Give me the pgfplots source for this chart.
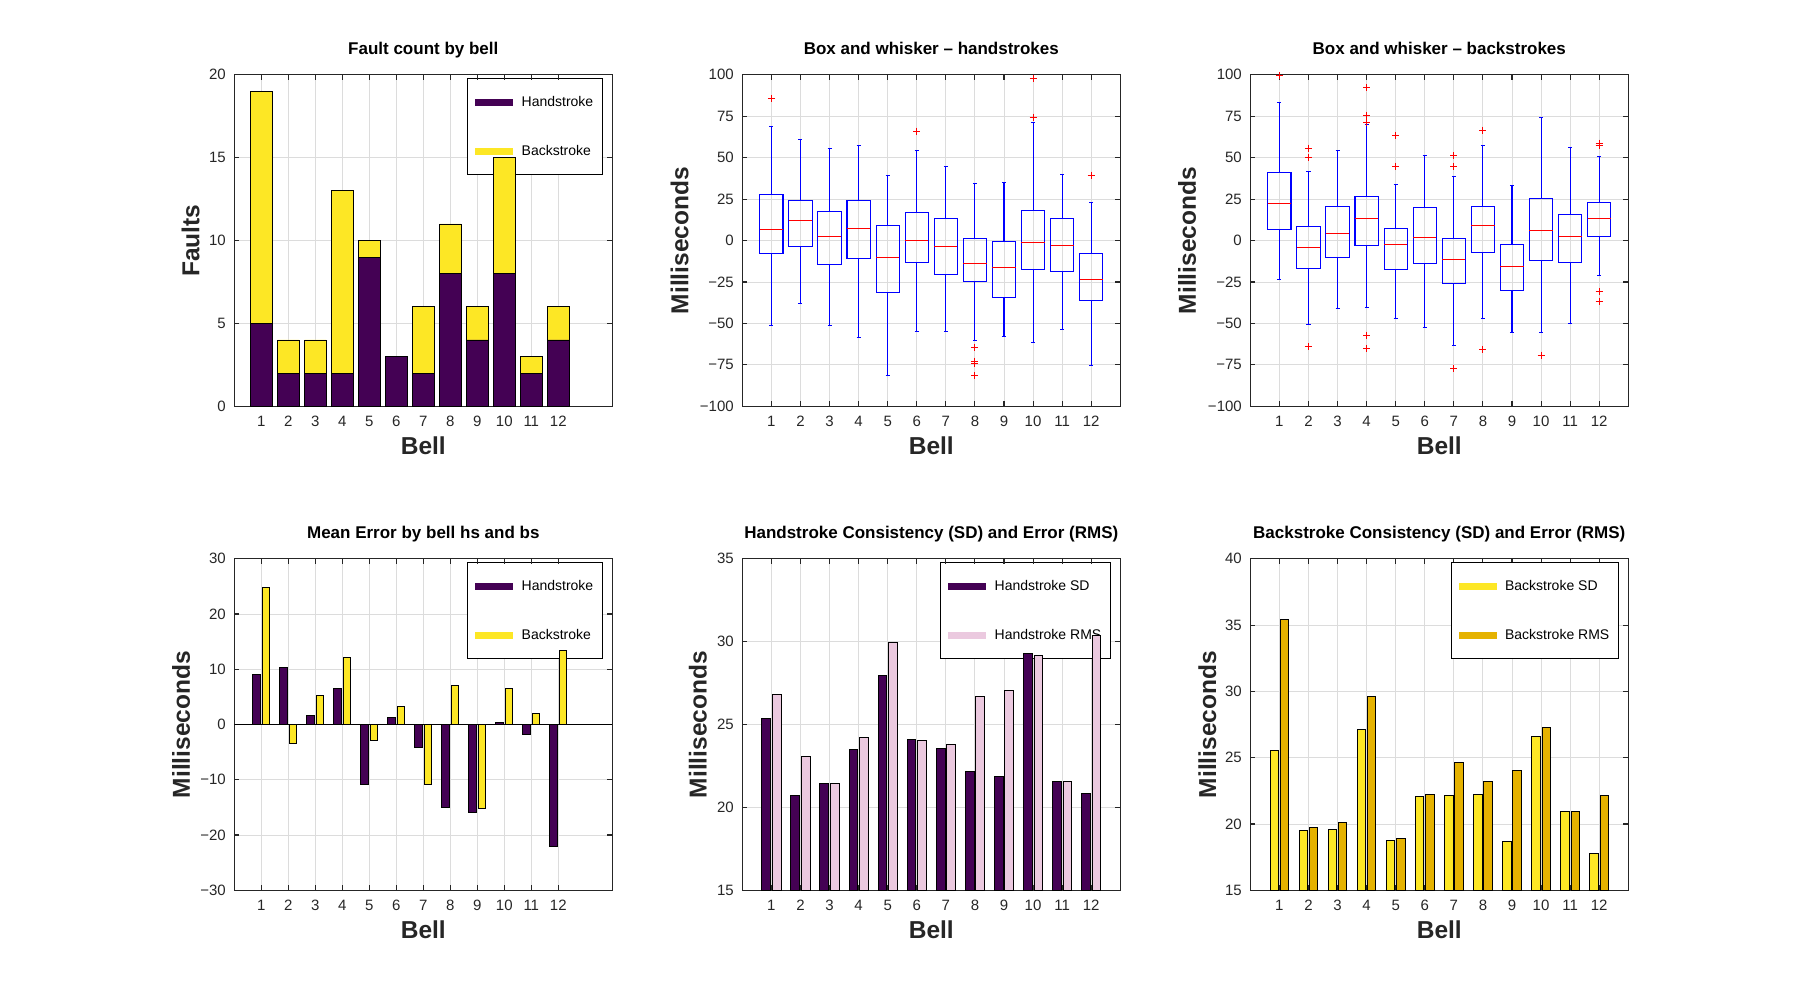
\documentclass[border=0pt]{standalone}
\usepackage{fontspec}
\setmainfont{Liberation Sans}
\usepackage{pgfplots}
\pgfplotsset{compat=1.18}
\usepgfplotslibrary{statistics}
\definecolor{hs}{HTML}{440154}
\definecolor{bs}{HTML}{FDE725}
\definecolor{hsrms}{HTML}{EBC9DF}
\definecolor{bsrms}{HTML}{E5B200}
\definecolor{axgray}{HTML}{262626}
\definecolor{gridgray}{HTML}{DCDCDC}
\pgfplotsset{
  layers/mylayers/.define layer set={axis background,axis grid,axis descriptions,main,axis ticks,axis lines,axis tick labels,axis foreground}{},
  common/.style={
    set layers=mylayers,
    scale only axis, width=378pt, height=331.5pt, anchor=south west,
    axis line style={axgray, line width=1.1pt},
    every tick/.style={axgray, line width=1.1pt},
    major tick length=5pt, tick align=inside, tick pos=both,
    grid=major, major grid style={gridgray, line width=0.9pt},
    xtick={1,2,3,4,5,6,7,8,9,10,11,12},
    xticklabels={1,2,3,4,5,6,7,8,9,10,11,12},
    ticklabel style={font=\fontsize{15}{18}\selectfont, text=axgray},
    xticklabel style={yshift=-6pt},
    yticklabel style={xshift=-5pt},
    every axis title/.style={at={(axis description cs:0.5,1.0602)}, anchor=base, font=\bfseries\fontsize{17}{20}\selectfont, text=black},
    every axis x label/.style={at={(axis description cs:0.5,-0.1446)}, anchor=base, font=\bfseries\fontsize{24.5}{28}\selectfont, text=axgray},
    xlabel={Bell},
  },
  overlayaxis/.style={grid=none, xticklabels={}, yticklabels={}, xlabel={}, ylabel={}, title={}},
  ylab/.style={every axis y label/.style={at={(axis description cs:#1,0.5)}, rotate=90, anchor=base, font=\bfseries\fontsize{24.5}{28}\selectfont, text=axgray}},
  mylegend/.style={legend style={at={(axis description cs:0.976,0.990)}, anchor=north east, draw=black, line width=0.9pt, fill=white, inner xsep=7.5pt, inner ysep=16pt, row sep=33pt, font=\fontsize{14}{14}\selectfont, text=black, /tikz/every odd column/.append style={column sep=6.5pt}}, legend cell align=left},
  barleg/.style={legend image code/.code={\fill[##1,draw=none] (0pt,-3.5pt) rectangle (38pt,3.5pt);}},
  bxp/.style={blue, line width=1.1pt, mark=+, mark size=3.5pt, mark options={red, line width=1pt},
    boxplot/draw direction=y,
    boxplot/box extend=0.8, boxplot/whisker extend=0.14,
    boxplot/every median/.style={red, line width=1.1pt}},
}
\begin{document}
\begin{tikzpicture}[x=1pt,y=1pt]
\path (0,0) rectangle (1800,1000);

% ---------- Fault count (frame, grid, labels, legend)
\begin{axis}[common, at={(234.3pt,593.7pt)}, ylab=-0.0926,
  title={Fault count by bell}, ylabel={Faults},
  xmin=0, xmax=14, ymin=0, ymax=20,
  ytick={0,5,10,15,20}, yticklabels={0,5,10,15,20}, mylegend]
\addlegendimage{barleg, fill=hs}
\addlegendentry{Handstroke}
\addlegendimage{barleg, fill=bs}
\addlegendentry{Backstroke}
\end{axis}
% ---------- Fault count (bars, drawn over the legend)
\begin{axis}[common, overlayaxis, at={(234.3pt,593.7pt)},
  xmin=0, xmax=14, ymin=0, ymax=20, ytick={0,5,10,15,20},
  ybar stacked, bar width=0.8]
\addplot[fill=hs, draw=black, line width=0.9pt] coordinates {(1,5)(2,2)(3,2)(4,2)(5,9)(6,3)(7,2)(8,8)(9,4)(10,8)(11,2)(12,4)};
\addplot[fill=bs, draw=black, line width=0.9pt] coordinates {(1,14)(2,2)(3,2)(4,11)(5,1)(6,0)(7,4)(8,3)(9,2)(10,7)(11,1)(12,2)};
\end{axis}

% ---------- Box handstrokes
\begin{axis}[common, at={(742.3pt,593.7pt)}, ylab=-0.1429,
  title={Box and whisker – handstrokes}, ylabel={Milliseconds},
  xmin=0, xmax=13, ymin=-100, ymax=100,
  ytick={-100,-75,-50,-25,0,25,50,75,100}, yticklabels={−100,−75,−50,−25,0,25,50,75,100}]
\addplot[bxp, boxplot prepared={draw position=1, lower whisker=-51.5, lower quartile=-7.6, median=6.8, upper quartile=28.0, upper whisker=68.8}] coordinates {(0,85.7)};
\addplot[bxp, boxplot prepared={draw position=2, lower whisker=-37.8, lower quartile=-3.4, median=12.3, upper quartile=24.3, upper whisker=61.2}] coordinates {};
\addplot[bxp, boxplot prepared={draw position=3, lower whisker=-51.5, lower quartile=-14.3, median=2.6, upper quartile=17.5, upper whisker=55.7}] coordinates {};
\addplot[bxp, boxplot prepared={draw position=4, lower whisker=-58.4, lower quartile=-10.7, median=7.4, upper quartile=24.3, upper whisker=57.5}] coordinates {};
\addplot[bxp, boxplot prepared={draw position=5, lower whisker=-81.3, lower quartile=-31.2, median=-10.1, upper quartile=9.3, upper whisker=39.2}] coordinates {};
\addplot[bxp, boxplot prepared={draw position=6, lower whisker=-54.7, lower quartile=-13.1, median=0.2, upper quartile=17.1, upper whisker=54.5}] coordinates {(0,66.0)};
\addplot[bxp, boxplot prepared={draw position=7, lower whisker=-54.7, lower quartile=-20.3, median=-3.4, upper quartile=13.5, upper whisker=44.9}] coordinates {};
\addplot[bxp, boxplot prepared={draw position=8, lower whisker=-60.2, lower quartile=-24.5, median=-13.7, upper quartile=1.4, upper whisker=34.6}] coordinates {(0,-64.4)(0,-72.8)(0,-74.4)(0,-81.3)};
\addplot[bxp, boxplot prepared={draw position=9, lower whisker=-57.7, lower quartile=-34.2, median=-16.1, upper quartile=-0.4, upper whisker=35.2}] coordinates {};
\addplot[bxp, boxplot prepared={draw position=10, lower whisker=-61.4, lower quartile=-17.3, median=-1.0, upper quartile=18.1, upper whisker=71.4}] coordinates {(0,98.0)(0,74.4)};
\addplot[bxp, boxplot prepared={draw position=11, lower whisker=-53.5, lower quartile=-18.5, median=-2.8, upper quartile=13.5, upper whisker=40.0}] coordinates {};
\addplot[bxp, boxplot prepared={draw position=12, lower whisker=-75.3, lower quartile=-36.0, median=-23.3, upper quartile=-7.6, upper whisker=22.9}] coordinates {(0,39.4)};
\end{axis}

% ---------- Box backstrokes
\begin{axis}[common, at={(1250.3pt,593.7pt)}, ylab=-0.1437,
  title={Box and whisker – backstrokes}, ylabel={Milliseconds},
  xmin=0, xmax=13, ymin=-100, ymax=100,
  ytick={-100,-75,-50,-25,0,25,50,75,100}, yticklabels={−100,−75,−50,−25,0,25,50,75,100}]
\addplot[bxp, boxplot prepared={draw position=1, lower whisker=-23.3, lower quartile=6.8, median=22.5, upper quartile=41.2, upper whisker=83.5}] coordinates {(0,99.6)};
\addplot[bxp, boxplot prepared={draw position=2, lower whisker=-50.5, lower quartile=-16.7, median=-4.0, upper quartile=8.5, upper whisker=41.6}] coordinates {(0,55.7)(0,50.3)(0,-63.8)};
\addplot[bxp, boxplot prepared={draw position=3, lower whisker=-40.8, lower quartile=-10.1, median=4.4, upper quartile=20.7, upper whisker=54.5}] coordinates {};
\addplot[bxp, boxplot prepared={draw position=4, lower whisker=-40.2, lower quartile=-2.8, median=13.5, upper quartile=26.8, upper whisker=70.2}] coordinates {(0,92.4)(0,75.7)(0,71.4)(0,-57.1)(0,-65.0)};
\addplot[bxp, boxplot prepared={draw position=5, lower whisker=-46.9, lower quartile=-17.3, median=-2.2, upper quartile=7.4, upper whisker=34.0}] coordinates {(0,63.4)(0,44.9)};
\addplot[bxp, boxplot prepared={draw position=6, lower whisker=-52.3, lower quartile=-13.7, median=2.0, upper quartile=20.1, upper whisker=51.3}] coordinates {};
\addplot[bxp, boxplot prepared={draw position=7, lower whisker=-63.2, lower quartile=-25.8, median=-11.3, upper quartile=1.4, upper whisker=38.8}] coordinates {(0,51.1)(0,44.9)(0,-77.1)};
\addplot[bxp, boxplot prepared={draw position=8, lower whisker=-46.9, lower quartile=-7.0, median=9.3, upper quartile=20.7, upper whisker=57.5}] coordinates {(0,66.6)(0,-65.6)};
\addplot[bxp, boxplot prepared={draw position=9, lower whisker=-55.3, lower quartile=-30.0, median=-15.5, upper quartile=-2.2, upper whisker=33.4}] coordinates {};
\addplot[bxp, boxplot prepared={draw position=10, lower whisker=-55.3, lower quartile=-11.9, median=6.2, upper quartile=25.6, upper whisker=74.4}] coordinates {(0,-69.2)};
\addplot[bxp, boxplot prepared={draw position=11, lower whisker=-49.9, lower quartile=-13.1, median=2.6, upper quartile=15.9, upper whisker=56.3}] coordinates {};
\addplot[bxp, boxplot prepared={draw position=12, lower whisker=-20.9, lower quartile=2.6, median=13.5, upper quartile=23.1, upper whisker=50.9}] coordinates {(0,58.8)(0,57.1)(0,-31.0)(0,-36.6)};
\end{axis}

% ---------- Mean error (frame, grid, labels, legend)
\begin{axis}[common, at={(234.3pt,109.7pt)}, ylab=-0.1172,
  title={Mean Error by bell hs and bs}, ylabel={Milliseconds},
  xmin=0, xmax=14, ymin=-30, ymax=30,
  ytick={-30,-20,-10,0,10,20,30}, yticklabels={−30,−20,−10,0,10,20,30}, mylegend]
\addlegendimage{barleg, fill=hs}
\addlegendentry{Handstroke}
\addlegendimage{barleg, fill=bs}
\addlegendentry{Backstroke}
\end{axis}
% ---------- Mean error (bars)
\begin{axis}[common, overlayaxis, at={(234.3pt,109.7pt)},
  xmin=0, xmax=14, ymin=-30, ymax=30, ytick={-30,-20,-10,0,10,20,30}]
\addplot[ybar, bar width=0.27, bar shift=-0.185, fill=hs, draw=black, line width=0.9pt] coordinates {(1,9.0)(2,10.3)(3,1.6)(4,6.5)(5,-10.8)(6,1.3)(7,-4.2)(8,-15.0)(9,-15.9)(10,0.4)(11,-1.8)(12,-22.0)};
\addplot[ybar, bar width=0.27, bar shift=0.185, fill=bs, draw=black, line width=0.9pt] coordinates {(1,24.8)(2,-3.5)(3,5.2)(4,12.1)(5,-2.9)(6,3.3)(7,-10.8)(8,7.0)(9,-15.2)(10,6.5)(11,2.0)(12,13.4)};
\addplot[black, line width=1pt] coordinates {(0,0)(14,0)};
\end{axis}

% ---------- Handstroke SD/RMS (frame, grid, labels, legend)
\begin{axis}[common, at={(742.3pt,109.7pt)}, ylab=-0.0942,
  title={Handstroke Consistency (SD) and Error (RMS)}, ylabel={Milliseconds},
  xmin=0, xmax=13, ymin=15, ymax=35,
  ytick={15,20,25,30,35}, yticklabels={15,20,25,30,35}, mylegend]
\addlegendimage{barleg, fill=hs}
\addlegendentry{Handstroke SD}
\addlegendimage{barleg, fill=hsrms}
\addlegendentry{Handstroke RMS}
\end{axis}
% ---------- Handstroke SD/RMS (bars)
\begin{axis}[common, overlayaxis, at={(742.3pt,109.7pt)},
  xmin=0, xmax=13, ymin=15, ymax=35, ytick={15,20,25,30,35}]
\addplot[ybar, bar width=0.3, bar shift=-0.18, fill=hs, draw=black, line width=0.9pt] coordinates {(1,25.38)(2,20.72)(3,21.47)(4,23.49)(5,27.95)(6,24.10)(7,23.55)(8,22.17)(9,21.87)(10,29.28)(11,21.57)(12,20.86)};
\addplot[ybar, bar width=0.3, bar shift=0.18, fill=hsrms, draw=black, line width=0.9pt] coordinates {(1,26.81)(2,23.07)(3,21.47)(4,24.22)(5,29.94)(6,24.04)(7,23.80)(8,26.69)(9,27.05)(10,29.16)(11,21.57)(12,30.36)};
\end{axis}

% ---------- Backstroke SD/RMS
\begin{axis}[common, at={(1250.3pt,109.7pt)}, ylab=-0.0907,
  title={Backstroke Consistency (SD) and Error (RMS)}, ylabel={Milliseconds},
  xmin=0, xmax=13, ymin=15, ymax=40,
  ytick={15,20,25,30,35,40}, yticklabels={15,20,25,30,35,40}, mylegend]
\addplot[ybar, bar width=0.29, bar shift=-0.175, fill=bs, draw=black, line width=0.9pt, barleg] coordinates {(1,25.54)(2,19.52)(3,19.59)(4,27.12)(5,18.77)(6,22.08)(7,22.15)(8,22.23)(9,18.69)(10,26.59)(11,20.95)(12,17.79)};
\addlegendentry{Backstroke SD}
\addplot[ybar, bar width=0.29, bar shift=0.175, fill=bsrms, draw=black, line width=0.9pt, barleg] coordinates {(1,35.41)(2,19.74)(3,20.12)(4,29.61)(5,18.92)(6,22.23)(7,24.64)(8,23.21)(9,24.04)(10,27.27)(11,20.95)(12,22.15)};
\addlegendentry{Backstroke RMS}
\end{axis}
\end{tikzpicture}
\end{document}
